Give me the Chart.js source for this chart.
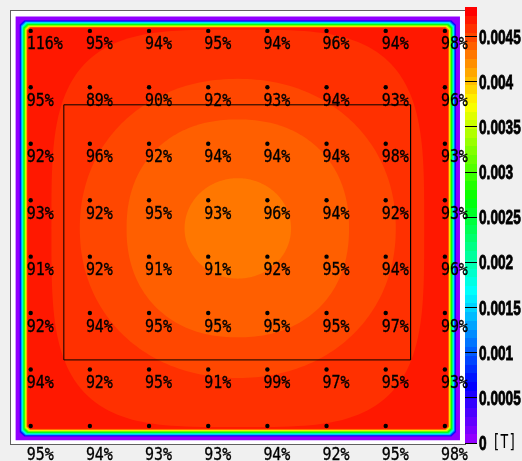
<!DOCTYPE html>
<html>
<head>
<meta charset="utf-8">
<script src="https://cdn.jsdelivr.net/npm/chart.js@4/dist/chart.umd.min.js"></script>
<style>
  html, body { margin: 0; padding: 0; background: #f0f0f0; overflow: hidden; }
  canvas { display: block; }
</style>
</head>
<body>
<canvas id="c" width="522" height="461"></canvas>
<script>
// Probe grid positions (cm)
const probeX = [0, 10, 20, 30, 40, 50, 60, 70];
const probeY = [0, 10, 20, 30, 40, 50, 60, 70];

// Ratio at each probe [%], one row per probeY
const ratioRow0 = [116, 95, 94, 95, 94, 96, 94, 98];
const ratioRow1 = [95, 89, 90, 92, 93, 94, 93, 96];
const ratioRow2 = [92, 96, 92, 94, 94, 94, 98, 93];
const ratioRow3 = [93, 92, 95, 93, 96, 94, 92, 93];
const ratioRow4 = [91, 92, 91, 91, 92, 95, 94, 96];
const ratioRow5 = [92, 94, 95, 95, 95, 95, 97, 99];
const ratioRow6 = [94, 92, 95, 91, 99, 97, 95, 93];
const ratioRow7 = [95, 94, 93, 93, 94, 92, 95, 98];
const ratioRows = [ratioRow0, ratioRow1, ratioRow2, ratioRow3, ratioRow4, ratioRow5, ratioRow6, ratioRow7];

// Field map [T]
const fieldCentre = [35, 35];
const fieldHalfWidth = 37.55;          // extent of the mapped field (cm)
const plateauField = 0.0047;           // field near the walls
const edgeDepth = [0, 0.65, 2.05];     // distance in from the field boundary (cm)
const edgeField = [0, 0.0001, 0.0047]; // field at those depths
const contourField = [0.0046, 0.0045, 0.0044, 0.0043];  // field inside each iso-line
const contourRadiusX = [31.5, 26.7, 18.8, 9.0];         // iso-line half-width (cm)
const contourRadiusY = [35.2, 26.5, 19.3, 8.9];         // iso-line half-height (cm)
const contourSquareness = [3.6, 2.1, 2.2, 2.0];         // superellipse exponent of each iso-line

// Colour scale
const zMax = 0.00483;
const nContours = 50;
const colourTicks = [0, 0.0005, 0.001, 0.0015, 0.002, 0.0025, 0.003, 0.0035, 0.004, 0.0045];
const zUnit = '[T]';

// Region of interest (cm)
const regionX = [5.6, 64.2];
const regionY = [13.1, 58.3];

const zStep = zMax / nContours;

// Violet -> red spectrum, last entry pure red
function paletteColour(i) {
  if (i >= nContours - 1) return 'rgb(255,0,0)';
  const hue = 280 - (i + 1) * (280 / nContours);
  return `hsl(${hue},100%,50%)`;
}
function levelIndex(v) {
  return Math.max(0, Math.min(nContours - 1, Math.floor(v / zStep)));
}
function depthForField(v) {
  for (let i = 1; i < edgeField.length; i++) {
    if (v <= edgeField[i]) {
      const f = (v - edgeField[i - 1]) / (edgeField[i] - edgeField[i - 1]);
      return edgeDepth[i - 1] + f * (edgeDepth[i] - edgeDepth[i - 1]);
    }
  }
  return edgeDepth[edgeDepth.length - 1];
}

const fieldMap = {
  id: 'fieldMap',
  beforeDraw(chart) {
    const { ctx, chartArea: a, scales: { x, y, z } } = chart;
    const px = v => x.getPixelForValue(v);
    const py = v => y.getPixelForValue(v);
    const fillPoly = (pts, colour) => {
      ctx.beginPath();
      pts.forEach(([u, w], i) => (i ? ctx.lineTo(px(u), py(w)) : ctx.moveTo(px(u), py(w))));
      ctx.closePath();
      ctx.fillStyle = colour;
      ctx.fill();
    };
    ctx.save();
    ctx.fillStyle = '#f0f0f0';
    ctx.fillRect(0, 0, chart.width, chart.height);
    ctx.fillStyle = '#ffffff';
    ctx.fillRect(a.left, a.top, a.right - a.left, a.bottom - a.top);

    const [cx, cy] = fieldCentre;
    // fall-off towards the walls: chamfered squares, one per colour level
    const top = levelIndex(plateauField);
    for (let k = 0; k <= top; k++) {
      const d = k === 0 ? 0 : depthForField(k * zStep);
      const h = fieldHalfWidth - d;
      const c = k === 0 ? 0 : Math.max(0, 0.9 - 0.2 * d);
      fillPoly([
        [cx - h + c, cy - h], [cx + h - c, cy - h], [cx + h, cy - h + c], [cx + h, cy + h - c],
        [cx + h - c, cy + h], [cx - h + c, cy + h], [cx - h, cy + h - c], [cx - h, cy - h + c]
      ], paletteColour(k));
    }
    // inner iso-lines
    contourField.forEach((v, j) => {
      const rx = contourRadiusX[j], ry = contourRadiusY[j], n = contourSquareness[j];
      const pts = [];
      for (let s = 0; s < 240; s++) {
        const t = (s / 240) * Math.PI * 2;
        const co = Math.cos(t), si = Math.sin(t);
        pts.push([cx + rx * Math.sign(co) * Math.pow(Math.abs(co), 2 / n),
                  cy + ry * Math.sign(si) * Math.pow(Math.abs(si), 2 / n)]);
      }
      fillPoly(pts, paletteColour(levelIndex(v)));
    });

    // frame
    ctx.strokeStyle = '#606060';
    ctx.lineWidth = 1;
    ctx.strokeRect(Math.round(a.left) + 0.5, Math.round(a.top) + 0.5,
                   Math.round(a.right - a.left), Math.round(a.bottom - a.top));

    // colour bar
    const bx = Math.round(z.left);
    for (let k = 0; k < nContours; k++) {
      const y1 = Math.round(z.getPixelForValue(k * zStep));
      const y2 = Math.round(z.getPixelForValue((k + 1) * zStep));
      ctx.fillStyle = paletteColour(k);
      ctx.fillRect(bx, y2, 12, y1 - y2);
    }
    ctx.restore();
  },
  afterDraw(chart) {
    const { ctx, scales: { x, y, z } } = chart;
    ctx.save();
    // probe ratios
    ctx.fillStyle = '#000';
    ctx.strokeStyle = '#000';
    ctx.font = '18px "DejaVu Sans Mono", monospace';
    ctx.textBaseline = 'alphabetic';
    ratioRows.forEach((row, r) => {
      const drop = r === ratioRows.length - 1 ? 34 : 18.5;
      row.forEach((val, c) => {
        ctx.save();
        ctx.translate(x.getPixelForValue(probeX[c]) - 4, y.getPixelForValue(probeY[r]) + drop);
        ctx.scale(0.83, 1);
        ctx.lineWidth = 0.35;
        ctx.fillText(val + '%', 0, 0);
        ctx.strokeText(val + '%', 0, 0);
        ctx.restore();
      });
    });
    // colour bar labels
    ctx.font = 'bold 19.5px "Liberation Sans", Arial, sans-serif';
    z.ticks.forEach(t => {
      const label = String(parseFloat(t.value.toFixed(4)));
      ctx.save();
      ctx.translate(479, z.getPixelForValue(t.value) + 7);
      ctx.scale(0.7, 1);
      ctx.lineWidth = 0.8;
      ctx.fillText(label, 0, 0);
      ctx.strokeText(label, 0, 0);
      ctx.restore();
    });
    ctx.font = '19px "DejaVu Sans Mono", monospace';
    ctx.save();
    ctx.translate(492, z.getPixelForValue(0) + 5);
    ctx.scale(0.72, 1);
    ctx.fillText(zUnit, 0, 0);
    ctx.restore();
    ctx.restore();
  }
};

const probePoints = [];
probeY.forEach(v => probeX.forEach(u => probePoints.push({ x: u, y: v })));
const regionOutline = [
  { x: regionX[0], y: regionY[0] }, { x: regionX[1], y: regionY[0] },
  { x: regionX[1], y: regionY[1] }, { x: regionX[0], y: regionY[1] },
  { x: regionX[0], y: regionY[0] }
];

new Chart(document.getElementById('c'), {
  type: 'scatter',
  data: {
    datasets: [
      {
        data: regionOutline, showLine: true, borderColor: '#000', borderWidth: 1,
        pointRadius: 0, fill: false, tension: 0
      },
      {
        data: probePoints, pointRadius: 2.2, pointBackgroundColor: '#000',
        pointBorderWidth: 0, showLine: false
      }
    ]
  },
  options: {
    responsive: false,
    animation: false,
    devicePixelRatio: 1,
    layout: { padding: { left: 10, top: 10, right: 0, bottom: 17 } },
    plugins: { legend: { display: false }, tooltip: { enabled: false } },
    scales: {
      x: { type: 'linear', min: -3.5, max: 73.4, display: false },
      y: { type: 'linear', min: -3.7, max: 73.2, reverse: true, display: false },
      z: {
        type: 'linear', position: 'right', min: -0.000011, max: 0.0047955,
        grid: { drawOnChartArea: false, drawTicks: true, tickLength: 12, color: '#000', lineWidth: 1, z: 1 },
        border: { display: false },
        ticks: { display: false },
        afterBuildTicks: s => { s.ticks = colourTicks.map(v => ({ value: v })); },
        afterFit: s => { s.width = 57; }
      }
    }
  },
  plugins: [fieldMap]
});
</script>
</body>
</html>
